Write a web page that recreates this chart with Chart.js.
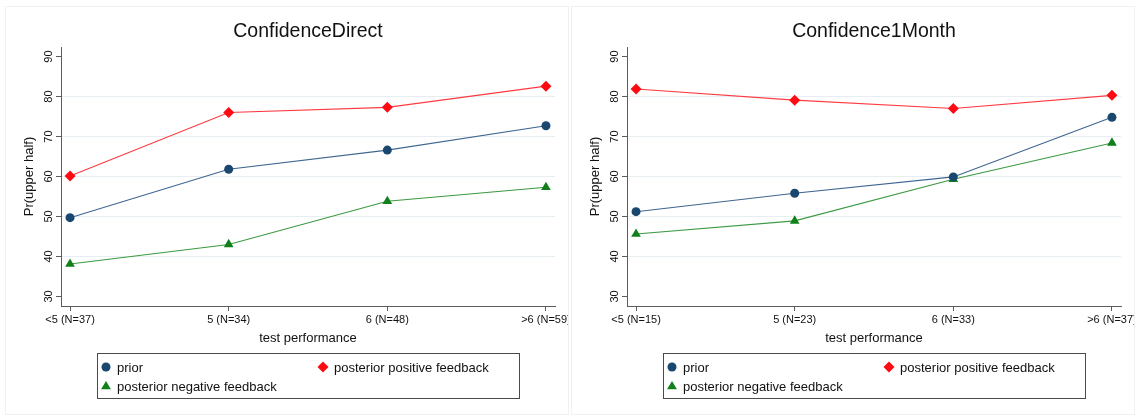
<!DOCTYPE html>
<html>
<head>
<meta charset="utf-8">
<script src="https://cdn.jsdelivr.net/npm/chart.js@4/dist/chart.umd.min.js"></script>
<style>
  html, body { margin: 0; padding: 0; background: #fff; }
  body { width: 1138px; height: 416px; position: relative; overflow: hidden; }
  .panel { position: absolute; top: 6px; width: 564px; height: 409px; border: 1px solid #f1f1f1; box-sizing: border-box; background: #fff; }
  .panel canvas { position: absolute; left: 0; top: 0; }
</style>
</head>
<body>
<div class="panel" style="left:5px"><canvas id="direct" width="562" height="407"></canvas></div>
<div class="panel" style="left:571px"><canvas id="month" width="562" height="407"></canvas></div>
<script>
// Test-performance groups (x axis) for each panel
const categoriesDirect = ['<5 (N=37)', '5 (N=34)', '6 (N=48)', '>6 (N=59)'];
const categoriesMonth  = ['<5 (N=15)', '5 (N=23)', '6 (N=33)', '>6 (N=37)'];

// Pr(upper half) by group — ConfidenceDirect
const priorDirect    = [49.7, 61.8, 66.6, 72.7];
const positiveDirect = [60.1, 76.0, 77.3, 82.6];
const negativeDirect = [38.1, 43.0, 53.8, 57.3];

// Pr(upper half) by group — Confidence1Month
const priorMonth    = [51.2, 55.8, 59.9, 74.8];
const positiveMonth = [81.9, 79.1, 77.0, 80.3];
const negativeMonth = [45.6, 48.9, 59.3, 68.4];

// Y-axis tick values
const yTicks = [30, 40, 50, 60, 70, 80, 90];

const seriesNames = ['prior', 'posterior positive feedback', 'posterior negative feedback'];

const FONT = '"Liberation Sans", Arial, Helvetica, sans-serif';
const AXIS = '#5c5c5c';
const GRID = '#e6eef2';
const NAVY = '#1a476f';
const RED = '#ff0a12';
const GREEN = '#11801a';

function pts(values) {
  return values.map((v, i) => ({ x: i, y: v }));
}

function drawMarker(ctx, style, color, x, y, r) {
  ctx.save();
  ctx.fillStyle = color;
  ctx.beginPath();
  if (style === 'circle') {
    ctx.arc(x, y, r, 0, Math.PI * 2);
  } else if (style === 'rectRot') {
    ctx.moveTo(x, y - r); ctx.lineTo(x + r, y); ctx.lineTo(x, y + r); ctx.lineTo(x - r, y);
    ctx.closePath();
  } else if (style === 'triangle') {
    const h = r * 1.5;
    ctx.moveTo(x, y - h * 0.6); ctx.lineTo(x + r * 0.9, y + h * 0.4); ctx.lineTo(x - r * 0.9, y + h * 0.4);
    ctx.closePath();
  }
  ctx.fill();
  ctx.restore();
}

// Titles, rotated y tick labels, axis titles and the boxed legend
const decorations = {
  id: 'decorations',
  afterDraw(chart, args, opts) {
    const ctx = chart.ctx;
    const area = chart.chartArea;
    const cx = (area.left + area.right) / 2;
    const cy = (area.top + area.bottom) / 2;
    ctx.save();
    ctx.fillStyle = '#111';
    ctx.textAlign = 'center';
    ctx.textBaseline = 'middle';

    // panel title
    ctx.font = '19.5px ' + FONT;
    ctx.fillText(opts.title, cx, 25);

    // x-axis title
    ctx.font = '13px ' + FONT;
    ctx.fillText('test performance', cx, 331);

    // y-axis title
    ctx.save();
    ctx.translate(23, cy);
    ctx.rotate(-Math.PI / 2);
    ctx.fillText('Pr(upper half)', 0, 0);
    ctx.restore();

    // y tick labels, rotated
    const ys = chart.scales.y;
    ctx.font = '11px ' + FONT;
    yTicks.forEach(v => {
      const py = ys.getPixelForValue(v);
      ctx.save();
      ctx.translate(43, py);
      ctx.rotate(-Math.PI / 2);
      ctx.fillText(String(v), 0, 0);
      ctx.restore();
    });

    // legend box
    ctx.strokeStyle = '#4a4a4a';
    ctx.lineWidth = 1;
    ctx.strokeRect(91.5, 346.5, 422, 45);
    const slots = [[100, 360], [317, 360], [100, 379]];
    ctx.font = '13px ' + FONT;
    ctx.textAlign = 'left';
    chart.data.datasets.forEach((ds, i) => {
      const [mx, my] = slots[i];
      drawMarker(ctx, ds.pointStyle, ds.pointBackgroundColor, mx, my, ds.pointStyle === 'circle' ? 4.5 : 5.5);
      ctx.fillStyle = '#111';
      ctx.fillText(ds.label, mx + 11, my + 1);
    });
    ctx.restore();
  }
};

function makeChart(id, title, categories, prior, positive, negative) {
  const series = [
    { values: prior,    color: NAVY,  line: '#3f6690', style: 'circle',   radius: 4.5 },
    { values: positive, color: RED,   line: '#ff3a40', style: 'rectRot',  radius: 5.5 },
    { values: negative, color: GREEN, line: '#3c9a42', style: 'triangle', radius: 5.6 }
  ];
  return new Chart(document.getElementById(id), {
    type: 'line',
    data: {
      datasets: series.map((s, i) => ({
        label: seriesNames[i],
        data: pts(s.values),
        borderColor: s.line,
        borderWidth: 1.1,
        backgroundColor: s.color,
        pointBackgroundColor: s.color,
        pointBorderColor: s.color,
        pointBorderWidth: 0,
        pointStyle: s.style,
        pointRadius: s.radius,
        tension: 0
      }))
    },
    options: {
      responsive: false,
      animation: false,
      events: [],
      layout: { padding: { top: 40, right: 13, left: 0, bottom: 0 } },
      plugins: {
        legend: { display: false },
        title: { display: false },
        tooltip: { enabled: false },
        decorations: { title: title }
      },
      scales: {
        x: {
          type: 'linear',
          min: -0.057,
          max: 3.057,
          afterBuildTicks: s => { s.ticks = categories.map((c, i) => ({ value: i })); },
          afterFit: s => { s.height = 108; s.paddingLeft = 0; s.paddingRight = 0; },
          border: { color: AXIS, width: 1 },
          grid: { drawOnChartArea: false, drawTicks: true, tickLength: 5, tickColor: AXIS },
          ticks: {
            autoSkip: false,
            maxRotation: 0,
            minRotation: 0,
            padding: 2,
            color: '#111',
            font: { family: FONT, size: 11 },
            callback: v => categories[v]
          }
        },
        y: {
          type: 'linear',
          min: 27.6,
          max: 92.4,
          afterBuildTicks: s => { s.ticks = yTicks.map(v => ({ value: v })); },
          afterFit: s => { s.width = 55; },
          border: { color: AXIS, width: 1 },
          grid: {
            drawTicks: true,
            tickLength: 5,
            tickColor: AXIS,
            color: c => (c.tick && (c.tick.value === 30 || c.tick.value === 90)) ? 'rgba(0,0,0,0)' : GRID,
            lineWidth: 1
          },
          ticks: { display: false }
        }
      }
    },
    plugins: [decorations]
  });
}

makeChart('direct', 'ConfidenceDirect', categoriesDirect, priorDirect, positiveDirect, negativeDirect);
makeChart('month', 'Confidence1Month', categoriesMonth, priorMonth, positiveMonth, negativeMonth);
</script>
</body>
</html>
